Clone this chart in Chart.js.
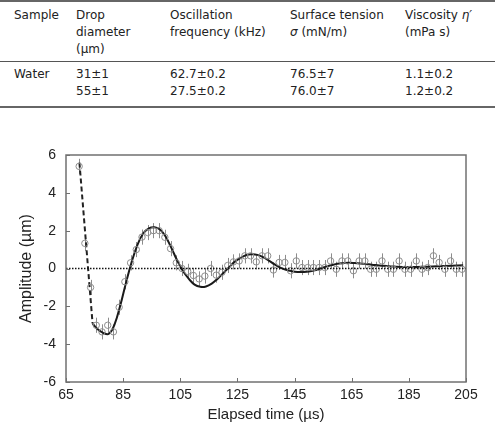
<!DOCTYPE html>
<html>
<head>
<meta charset="utf-8">
<script src="https://cdn.jsdelivr.net/npm/chart.js@4.4.1/dist/chart.umd.min.js"></script>
<style>
  body { margin: 0; background: #fff; }
  #tbl { position: absolute; left: 0; top: 0; width: 495px; border-collapse: collapse;
         font-family: "DejaVu Sans", sans-serif; font-size: 12px; line-height: 17px; color: #222; }
  #tbl td { vertical-align: top; padding: 0; }
  #tbl tr.head td { border-top: 2px solid #666; border-bottom: 1.5px solid #555; padding-top: 4.5px; padding-bottom: 3px; }
  #tbl tr.body td { border-bottom: 2px solid #666; padding-top: 4.5px; padding-bottom: 5.5px; }
  #tbl td:first-child { padding-left: 14px; }
  #wrap { position: absolute; left: 0; top: 130px; width: 495px; height: 300px; }
</style>
</head>
<body>
<table id="tbl"></table>
<div id="wrap"><canvas id="c" width="495" height="300"></canvas></div>
<script>
// table text
var tableHeaders = ['Sample', 'Drop<br>diameter<br>(\u03bcm)', 'Oscillation<br>frequency (kHz)',
                    'Surface tension<br><i>\u03c3</i> (mN/m)', 'Viscosity <i>\u03b7\u2032</i><br>(mPa s)'];
var tableRow = ['Water', '31\u00b11<br>55\u00b11', '62.7\u00b10.2<br>27.5\u00b10.2',
                '76.5\u00b17<br>76.0\u00b17', '1.1\u00b10.2<br>1.2\u00b10.2'];
var colWidths = [62, 94, 120, 115, 90];

// measured points (circles with error bars)
var sampleTimes = [69.6, 71.6, 73.6, 75.6, 77.6, 79.6, 81.6, 83.6, 85.6, 87.6, 89.6, 91.6, 93.6, 95.6,
                   97.6, 99.6, 101.6, 103.6, 105.6, 107.6, 109.6, 111.6, 113.6, 115.6, 117.6, 119.6,
                   121.6, 123.6, 125.6, 127.6, 129.6, 131.6, 133.6, 135.6, 137.6, 139.6, 141.6, 143.6,
                   145.6, 147.6, 149.6, 151.6, 153.6, 155.6, 157.6, 159.6, 161.6, 163.6, 165.6, 167.6,
                   169.6, 171.6, 173.6, 175.6, 177.6, 179.6, 181.6, 183.6, 185.6, 187.6, 189.6, 191.6,
                   193.6, 195.6, 197.6, 199.6, 201.6, 203.6];
var sampleAmps = [5.4, 1.33, -1.0, -3.0, -3.35, -3.0, -3.35, -2.05, -0.7, 0.3, 1.0, 1.66, 1.9, 2.0,
                  2.0, 1.65, 1.05, 0.3, 0.0, -0.15, -0.37, -0.55, -0.4, 0.0, -0.35, -0.2,
                  0.16, 0.35, 0.4, 0.67, 0.67, 0.35, 0.67, 0.67, -0.08, 0.32, 0.32, -0.12,
                  0.4, 0.05, 0.05, 0.05, 0.05, 0.05, 0.4, -0.04, 0.4, 0.4, -0.12, 0.4,
                  0.4, -0.04, -0.04, 0.4, -0.04, -0.04, 0.4, -0.04, -0.04, 0.4, -0.04, 0.05,
                  0.67, 0.32, -0.04, 0.4, -0.04, -0.04];
var ampError = 0.4;

// fitted curve (solid) and initial decay (dashed)
var fitTimes = [74.3, 76, 78, 80, 82, 84, 86, 88, 90, 92, 94, 96, 98, 100, 102, 104, 106, 108, 110,
                112, 114, 116, 118, 120, 122, 124, 126, 128, 130, 132, 134, 136, 138, 140, 142, 144,
                146, 148, 150, 152, 154, 156, 158, 160, 162, 164, 166, 168, 170, 172, 174, 176, 178,
                180, 185, 190, 195, 200, 204];
var fitAmps = [-2.9, -3.2, -3.4, -3.45, -2.95, -1.95, -0.75, 0.35, 1.25, 1.85, 2.12, 2.18, 2.05, 1.65,
               1.05, 0.4, -0.15, -0.55, -0.85, -0.97, -0.95, -0.8, -0.55, -0.25, 0.05, 0.35, 0.55,
               0.7, 0.75, 0.72, 0.6, 0.42, 0.22, 0.05, -0.07, -0.14, -0.18, -0.18, -0.16, -0.1, 0.0,
               0.1, 0.18, 0.25, 0.28, 0.3, 0.29, 0.27, 0.24, 0.2, 0.17, 0.14, 0.12, 0.1, 0.08, 0.09,
               0.12, 0.15, 0.17];
var dashTimes = [69.7, 74.3];
var dashAmps = [5.6, -2.9];
var zeroTimes = [65, 205];
var zeroAmps = [0, 0];

// build table
var tbl = document.getElementById('tbl');
var h = '<tr class="head">';
for (var i = 0; i < tableHeaders.length; i++) h += '<td style="width:' + colWidths[i] + 'px">' + tableHeaders[i] + '</td>';
h += '</tr><tr class="body">';
for (var j = 0; j < tableRow.length; j++) h += '<td>' + tableRow[j] + '</td>';
tbl.innerHTML = h + '</tr>';

function pts(xs, ys) {
  return xs.map(function (x, k) { return { x: x, y: ys[k] }; });
}

var markColor = '#8c8c8c';

// error bars, inner ticks and frame
var extras = {
  id: 'extras',
  beforeDatasetsDraw: function (chart) {
    var c = chart.ctx, xs = chart.scales.x, ys = chart.scales.y;
    c.save();
    c.strokeStyle = markColor;
    c.lineWidth = 1;
    sampleTimes.forEach(function (t, k) {
      var px = Math.round(xs.getPixelForValue(t)) + 0.5;
      c.beginPath();
      c.moveTo(px, ys.getPixelForValue(sampleAmps[k] + ampError));
      c.lineTo(px, ys.getPixelForValue(sampleAmps[k] - ampError));
      c.stroke();
    });
    c.restore();
  },
  afterDraw: function (chart) {
    var c = chart.ctx, a = chart.chartArea, xs = chart.scales.x, ys = chart.scales.y;
    c.save();
    c.strokeStyle = '#707070';
    c.lineWidth = 1.5;
    c.strokeRect(a.left, a.top, a.right - a.left, a.bottom - a.top);
    c.lineWidth = 1;
    c.beginPath();
    xs.ticks.forEach(function (tk) {
      var px = Math.round(xs.getPixelForValue(tk.value)) + 0.5;
      c.moveTo(px, a.bottom); c.lineTo(px, a.bottom - 4);
    });
    ys.ticks.forEach(function (tk) {
      var py = Math.round(ys.getPixelForValue(tk.value)) + 0.5;
      c.moveTo(a.left, py); c.lineTo(a.left + 4, py);
    });
    c.stroke();
    c.restore();
  }
};

new Chart(document.getElementById('c'), {
  type: 'scatter',
  data: {
    datasets: [{
      data: pts(zeroTimes, zeroAmps),
      showLine: true, borderColor: '#111', borderWidth: 1.5, borderDash: [1.5, 1.5], pointRadius: 0
    }, {
      data: pts(sampleTimes, sampleAmps),
      showLine: false, pointRadius: 3.2, pointBorderColor: markColor, pointBackgroundColor: 'rgba(0,0,0,0)',
      pointBorderWidth: 1
    }, {
      data: pts(dashTimes, dashAmps),
      showLine: true, borderColor: '#222', borderWidth: 2, borderDash: [5, 3], pointRadius: 0
    }, {
      data: pts(fitTimes, fitAmps),
      showLine: true, borderColor: '#1a1a1a', borderWidth: 2, tension: 0.4, pointRadius: 0
    }]
  },
  options: {
    responsive: false,
    animation: false,
    layout: { padding: { top: 25, right: 29, left: 0, bottom: 0 } },
    plugins: { legend: { display: false }, tooltip: { enabled: false } },
    scales: {
      x: {
        type: 'linear', min: 65, max: 205,
        afterFit: function (s) { s.height = 48; },
        grid: { display: false, drawTicks: false },
        border: { display: false },
        ticks: { stepSize: 20, padding: 5, color: '#222', font: { family: 'Liberation Sans', size: 14 } },
        title: { display: true, text: 'Elapsed time (\u00b5s)', color: '#222',
                 font: { family: 'Liberation Sans', size: 15 }, padding: { top: 0, bottom: 6 } }
      },
      y: {
        min: -6, max: 6,
        afterFit: function (s) { s.width = 66; },
        grid: { display: false, drawTicks: false },
        border: { display: false },
        ticks: { stepSize: 2, padding: 10, color: '#222', font: { family: 'Liberation Sans', size: 14 } },
        title: { display: true, text: 'Amplitude (\u00b5m)', color: '#222',
                 font: { family: 'Liberation Sans', size: 16 }, padding: { top: 17, bottom: 0 } }
      }
    }
  },
  plugins: [extras]
});
</script>
</body>
</html>
